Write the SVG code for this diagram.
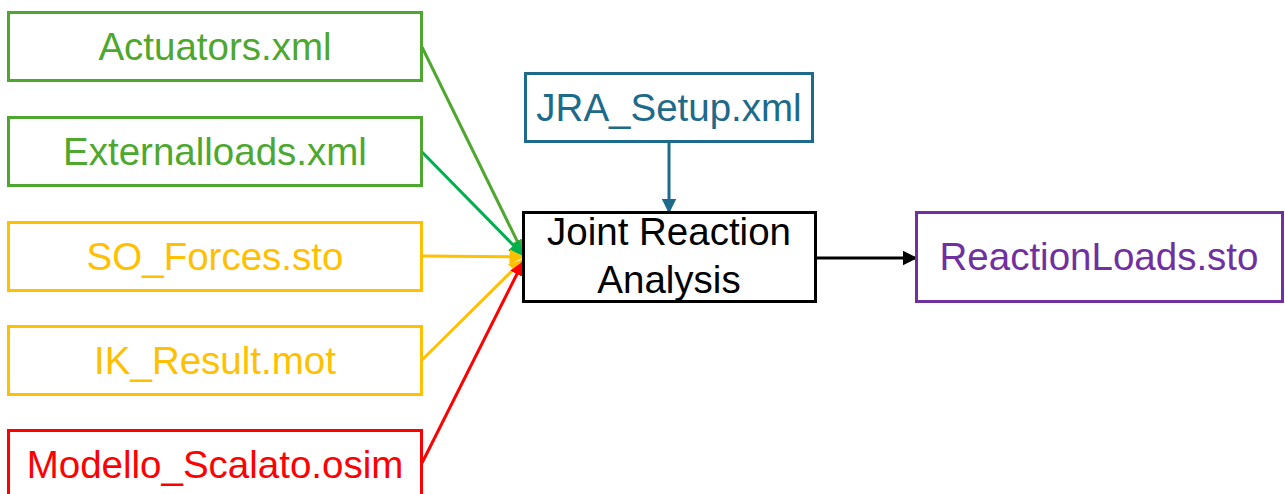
<svg xmlns="http://www.w3.org/2000/svg" width="1285" height="494" viewBox="0 0 1285 494">
<style>
.box{fill:#fff;stroke-width:3}
.t{font-family:"Liberation Sans",Arial,sans-serif;font-size:38.5px;text-anchor:middle}
.c{fill:none;stroke-width:3}
</style>
<defs>
<marker id="aG" viewBox="0 0 10 10" refX="9" refY="5" markerWidth="5" markerHeight="5" orient="auto" markerUnits="strokeWidth"><path d="M0,0 L10,5 L0,10 z" fill="#4EA72E"/></marker>
<marker id="aG2" viewBox="0 0 10 10" refX="9" refY="5" markerWidth="5" markerHeight="5" orient="auto" markerUnits="strokeWidth"><path d="M0,0 L10,5 L0,10 z" fill="#00B050"/></marker>
<marker id="aY" viewBox="0 0 10 10" refX="9" refY="5" markerWidth="5" markerHeight="5" orient="auto" markerUnits="strokeWidth"><path d="M0,0 L10,5 L0,10 z" fill="#FFC000"/></marker>
<marker id="aR" viewBox="0 0 10 10" refX="9" refY="5" markerWidth="5" markerHeight="5" orient="auto" markerUnits="strokeWidth"><path d="M0,0 L10,5 L0,10 z" fill="#FF0000"/></marker>
<marker id="aB" viewBox="0 0 10 10" refX="9" refY="5" markerWidth="5" markerHeight="5" orient="auto" markerUnits="strokeWidth"><path d="M0,0 L10,5 L0,10 z" fill="#1D6A8A"/></marker>
<marker id="aK" viewBox="0 0 10 10" refX="9" refY="5" markerWidth="5" markerHeight="5" orient="auto" markerUnits="strokeWidth"><path d="M0,0 L10,5 L0,10 z" fill="#000"/></marker>
</defs>
<g id="connectors">
<line class="c" x1="422" y1="47" x2="523" y2="253" stroke="#4EA72E" marker-end="url(#aG)"/>
<line class="c" x1="422" y1="152" x2="523" y2="255" stroke="#00B050" marker-end="url(#aG2)"/>
<line class="c" x1="422" y1="256" x2="523" y2="257" stroke="#FFC000" marker-end="url(#aY)"/>
<line class="c" x1="422" y1="360" x2="523" y2="260" stroke="#FFC000" marker-end="url(#aY)"/>
<line class="c" x1="422" y1="463" x2="523" y2="262" stroke="#FF0000" marker-end="url(#aR)"/>
<line class="c" x1="669" y1="142" x2="669" y2="212" stroke="#1D6A8A" marker-end="url(#aB)"/>
<line class="c" x1="816" y1="258" x2="916" y2="258" stroke="#000" marker-end="url(#aK)"/>
</g>
<g id="actuators"><rect class="box" x="8.5" y="12.5" width="413" height="68" stroke="#4EA72E"/><text class="t" x="215" y="60" fill="#4EA72E">Actuators.xml</text></g>
<g id="externalloads"><rect class="box" x="8.5" y="117.5" width="413" height="68" stroke="#4EA72E"/><text class="t" x="215" y="165" fill="#4EA72E">Externalloads.xml</text></g>
<g id="so_forces"><rect class="box" x="8.5" y="222.5" width="413" height="68" stroke="#FFC000"/><text class="t" x="215" y="270" fill="#FFC000">SO_Forces.sto</text></g>
<g id="ik_result"><rect class="box" x="8.5" y="326.5" width="413" height="68" stroke="#FFC000"/><text class="t" x="215" y="374" fill="#FFC000">IK_Result.mot</text></g>
<g id="modello"><rect class="box" x="8.5" y="430.5" width="413" height="68" stroke="#FF0000"/><text class="t" x="215" y="478" fill="#FF0000">Modello_Scalato.osim</text></g>
<g id="jra_setup"><rect class="box" x="525.5" y="73.5" width="287" height="68" stroke="#1D6A8A"/><text class="t" x="669" y="121" fill="#1D6A8A">JRA_Setup.xml</text></g>
<g id="jra"><rect class="box" x="523.5" y="212.5" width="292" height="89" stroke="#000"/><text class="t" x="669" y="245" fill="#000">Joint Reaction</text><text class="t" x="669" y="293" fill="#000">Analysis</text></g>
<g id="reactionloads"><rect class="box" x="916.5" y="212.5" width="366" height="89" stroke="#7030A0"/><text class="t" x="1099" y="270" fill="#7030A0">ReactionLoads.sto</text></g>
</svg>
